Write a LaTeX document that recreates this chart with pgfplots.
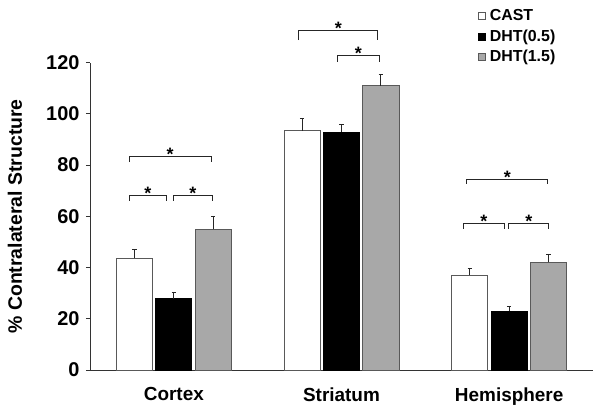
\documentclass[border=0pt]{standalone}
\usepackage{pgfplots}
\pgfplotsset{compat=1.18}
\usepackage{fontspec}
\setmainfont{Liberation Sans}
\definecolor{edge}{gray}{0.35}
\definecolor{barfill}{gray}{0.66}
\newcommand{\bstar}[2]{\node[anchor=base,inner sep=0pt,font=\fontsize{18}{18}\selectfont\bfseries] at (axis cs:#1,#2) [yshift=-4bp] {*};}
\newcommand{\brk}[4]{\draw[line width=0.9bp,black!85] (axis cs:#1,#4) |- (axis cs:#2,#3) -- (axis cs:#2,#4);}
\begin{document}
\begin{tikzpicture}
\path[use as bounding box] (-90bp,-42bp) rectangle (510bp,370bp);
\begin{axis}[
  at={(0,0)}, anchor=south west,
  scale only axis,
  width=503bp, height=307.3bp,
  xmin=-0.5, xmax=2.5, ymin=0, ymax=120,
  clip=false,
  axis lines*=left,
  axis line style={line width=0.9bp, black!80},
  ytick={0,20,40,60,80,100,120},
  xtick={0,1,2},
  xticklabels={Cortex,Striatum,Hemisphere},
  major x tick style={draw=none},
  extra x ticks={-0.5,0.5,1.5,2.5},
  extra x tick labels={},
  extra x tick style={major tick length=5bp, tick style={line width=0.9bp,black!80}},
  tick align=outside,
  major tick length=4bp,
  tick style={line width=0.9bp,black!80},
  /pgf/number format/assume math mode=true,
  yticklabel style={font=\fontsize{20}{20}\selectfont\bfseries, xshift=-3bp},
  xticklabel style={font=\fontsize{19}{19}\selectfont\bfseries, yshift=-10bp},
  ylabel={\% Contralateral Structure},
  ylabel style={font=\fontsize{19.5}{20}\selectfont\bfseries, at={(axis description cs:-0.149,0.5)}, anchor=center},
  ybar, bar width=0.215,
  legend style={at={(0.771,1.178)}, anchor=north west, draw=none, fill=none,
    font=\fontsize{16}{16}\selectfont\bfseries, row sep=4.5bp,
    legend cell align=left, inner sep=0pt,
    nodes={inner sep=1.5bp}},
  legend image code/.code={\draw[#1, line width=0.6bp] (0bp,-3.5bp) rectangle (7bp,3.5bp); \path[draw=none,fill=none] (0bp,0bp) -- (10bp,0bp);},
  error bars/y dir=plus, error bars/y explicit,
  error bars/error bar style={line width=0.9bp, black!85},
  error bars/error mark options={line width=0.9bp, black!85, mark size=2.2bp, rotate=90},
]
\addplot[bar shift=-0.235, fill=white, draw=edge, line width=0.8bp] coordinates {
  (0,43.7) +- (0,3.3)
  (1,93.5) +- (0,4.7)
  (2,37.0) +- (0,2.8)
};
\addplot[bar shift=0, fill=black, draw=black, line width=0.8bp] coordinates {
  (0,27.8) +- (0,2.6)
  (1,92.9) +- (0,3.0)
  (2,23.0) +- (0,1.7)
};
\addplot[bar shift=0.235, fill=barfill, draw=edge, line width=0.8bp] coordinates {
  (0,54.9) +- (0,5.1)
  (1,111.0) +- (0,4.5)
  (2,42.0) +- (0,3.3)
};
\legend{CAST,DHT(0.5),DHT(1.5)}
% significance brackets
\brk{-0.267}{0.222}{83.2}{81.2}
\bstar{-0.0225}{83.2}
\brk{-0.267}{-0.043}{68.3}{66.0}
\bstar{-0.155}{68.3}
\brk{-0.005}{0.233}{68.3}{66.0}
\bstar{0.114}{68.3}
\brk{0.746}{1.217}{132.7}{128.8}
\bstar{0.9815}{132.7}
\brk{0.973}{1.229}{122.7}{120.4}
\bstar{1.101}{122.7}
\brk{1.748}{2.231}{74.5}{72.8}
\bstar{1.9895}{74.5}
\brk{1.730}{1.969}{57.4}{55.2}
\bstar{1.8495}{57.4}
\brk{1.998}{2.237}{57.4}{55.2}
\bstar{2.1175}{57.4}
\end{axis}
\end{tikzpicture}
\end{document}
